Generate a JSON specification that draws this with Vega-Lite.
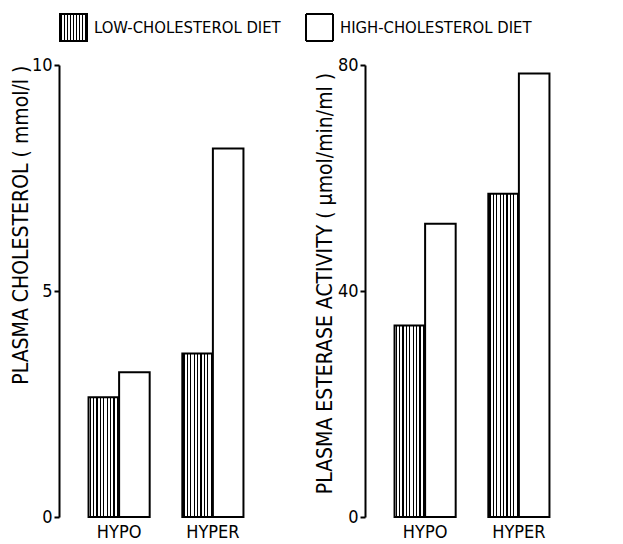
{
  "$schema": "https://vega.github.io/schema/vega-lite/v6.json",
  "padding": {"left": 10, "top": 13, "right": 5, "bottom": 0},
  "background": "white",
  "params": [
    {"name": "hatch", "value": {"gradient": "linear", "x1": 0, "y1": 0, "x2": 1, "y2": 0, "stops": [
      {"offset": 0, "color": "white"},
      {"offset": 0.034, "color": "white"}, {"offset": 0.034, "color": "black"}, {"offset": 0.078, "color": "black"}, {"offset": 0.078, "color": "white"},
      {"offset": 0.145, "color": "white"}, {"offset": 0.145, "color": "black"}, {"offset": 0.189, "color": "black"}, {"offset": 0.189, "color": "white"},
      {"offset": 0.256, "color": "white"}, {"offset": 0.256, "color": "black"}, {"offset": 0.3, "color": "black"}, {"offset": 0.3, "color": "white"},
      {"offset": 0.367, "color": "white"}, {"offset": 0.367, "color": "black"}, {"offset": 0.411, "color": "black"}, {"offset": 0.411, "color": "white"},
      {"offset": 0.478, "color": "white"}, {"offset": 0.478, "color": "black"}, {"offset": 0.522, "color": "black"}, {"offset": 0.522, "color": "white"},
      {"offset": 0.589, "color": "white"}, {"offset": 0.589, "color": "black"}, {"offset": 0.633, "color": "black"}, {"offset": 0.633, "color": "white"},
      {"offset": 0.7, "color": "white"}, {"offset": 0.7, "color": "black"}, {"offset": 0.744, "color": "black"}, {"offset": 0.744, "color": "white"},
      {"offset": 0.811, "color": "white"}, {"offset": 0.811, "color": "black"}, {"offset": 0.855, "color": "black"}, {"offset": 0.855, "color": "white"},
      {"offset": 0.922, "color": "white"}, {"offset": 0.922, "color": "black"}, {"offset": 0.966, "color": "black"}, {"offset": 0.966, "color": "white"},
      {"offset": 1, "color": "white"}
    ]}}
  ],
  "config": {
    "font": "DejaVu Sans Condensed",
    "view": {"stroke": null},
    "axis": {
      "domainColor": "black", "domainWidth": 2, "tickColor": "black", "tickWidth": 2,
      "labelColor": "black", "titleColor": "black", "labelFont": "DejaVu Sans Condensed",
      "titleFont": "DejaVu Sans Condensed", "labelFontSize": 18, "titleFontSize": 21,
      "titleFontWeight": "normal", "grid": false
    },
    "legend": {
      "labelFont": "DejaVu Sans Condensed", "labelFontSize": 16.5, "labelColor": "black", "labelLimit": 400,
      "orient": "top", "direction": "horizontal", "title": null, "symbolType": "square",
      "symbolSize": 729, "symbolStrokeWidth": 2, "symbolOpacity": 1, "labelOffset": 6, "offset": 11,
      "layout": {"top": {"anchor": "start", "direction": "horizontal", "margin": 24}}
    }
  },
  "datasets": {
    "chol": [
      {"group": "HYPO", "diet": "LOW-CHOLESTEROL DIET", "value": 2.65},
      {"group": "HYPO", "diet": "HIGH-CHOLESTEROL DIET", "value": 3.2},
      {"group": "HYPER", "diet": "LOW-CHOLESTEROL DIET", "value": 3.62},
      {"group": "HYPER", "diet": "HIGH-CHOLESTEROL DIET", "value": 8.15}
    ],
    "est": [
      {"group": "HYPO", "diet": "LOW-CHOLESTEROL DIET", "value": 33.9},
      {"group": "HYPO", "diet": "HIGH-CHOLESTEROL DIET", "value": 51.9},
      {"group": "HYPER", "diet": "LOW-CHOLESTEROL DIET", "value": 57.2},
      {"group": "HYPER", "diet": "HIGH-CHOLESTEROL DIET", "value": 78.5}
    ]
  },
  "spacing": 41,
  "resolve": {
    "scale": {"y": "independent", "opacity": "shared", "strokeDash": "shared"},
    "legend": {"opacity": "shared", "strokeDash": "shared"}
  },
  "hconcat": [
    {
      "width": 214, "height": 452,
      "data": {"name": "chol"},
      "encoding": {
        "x": {"field": "group", "type": "nominal", "sort": ["HYPO", "HYPER"],
          "scale": {"paddingInner": 0.348, "paddingOuter": 0.315},
          "axis": {"title": null, "labelAngle": 0, "domain": false, "ticks": false, "labelPadding": 6}},
        "xOffset": {"field": "diet", "type": "nominal", "sort": ["LOW-CHOLESTEROL DIET", "HIGH-CHOLESTEROL DIET"],
          "scale": {"domain": ["LOW-CHOLESTEROL DIET", "HIGH-CHOLESTEROL DIET"], "paddingInner": 0, "paddingOuter": 0}},
        "y": {"field": "value", "type": "quantitative", "scale": {"domain": [0, 10]},
          "axis": {"values": [0, 5, 10], "title": "PLASMA CHOLESTEROL ( mmol/l )", "titleAnchor": "end",
            "tickSize": 5, "labelPadding": 2, "titlePadding": 0}}
      },
      "layer": [
        {
          "transform": [{"filter": "datum.diet === 'LOW-CHOLESTEROL DIET'"}],
          "mark": {"type": "bar", "stroke": "black", "strokeWidth": 2, "fill": {"expr": "hatch"}},
          "encoding": {
            "opacity": {"field": "diet", "type": "ordinal",
              "scale": {"domain": ["LOW-CHOLESTEROL DIET"], "range": [1, 1]},
              "legend": {"orient": "top"}}
          }
        },
        {
          "transform": [{"filter": "datum.diet === 'HIGH-CHOLESTEROL DIET'"}],
          "mark": {"type": "bar", "stroke": "black", "strokeWidth": 2, "fill": "white"},
          "encoding": {
            "strokeDash": {"field": "diet", "type": "nominal",
              "scale": {"domain": ["HIGH-CHOLESTEROL DIET"], "range": [[1, 0]]},
              "legend": {"orient": "top"}}
          }
        }
      ]
    },
    {
      "width": 214, "height": 452,
      "data": {"name": "est"},
      "encoding": {
        "x": {"field": "group", "type": "nominal", "sort": ["HYPO", "HYPER"],
          "scale": {"paddingInner": 0.348, "paddingOuter": 0.315},
          "axis": {"title": null, "labelAngle": 0, "domain": false, "ticks": false, "labelPadding": 6}},
        "xOffset": {"field": "diet", "type": "nominal", "sort": ["LOW-CHOLESTEROL DIET", "HIGH-CHOLESTEROL DIET"],
          "scale": {"domain": ["LOW-CHOLESTEROL DIET", "HIGH-CHOLESTEROL DIET"], "paddingInner": 0, "paddingOuter": 0}},
        "y": {"field": "value", "type": "quantitative", "scale": {"domain": [0, 80]},
          "axis": {"values": [0, 40, 80], "title": "PLASMA ESTERASE ACTIVITY ( μmol/min/ml )", "titleAnchor": "middle",
            "titleY": 218, "tickSize": 5, "labelPadding": 2, "titlePadding": 2}}
      },
      "layer": [
        {
          "transform": [{"filter": "datum.diet === 'LOW-CHOLESTEROL DIET'"}],
          "mark": {"type": "bar", "stroke": "black", "strokeWidth": 2, "fill": {"expr": "hatch"}},
          "encoding": {
            "opacity": {"field": "diet", "type": "ordinal",
              "scale": {"domain": ["LOW-CHOLESTEROL DIET"], "range": [1, 1]},
              "legend": {"orient": "top"}}
          }
        },
        {
          "transform": [{"filter": "datum.diet === 'HIGH-CHOLESTEROL DIET'"}],
          "mark": {"type": "bar", "stroke": "black", "strokeWidth": 2, "fill": "white"},
          "encoding": {
            "strokeDash": {"field": "diet", "type": "nominal",
              "scale": {"domain": ["HIGH-CHOLESTEROL DIET"], "range": [[1, 0]]},
              "legend": {"orient": "top"}}
          }
        }
      ]
    }
  ]
}
